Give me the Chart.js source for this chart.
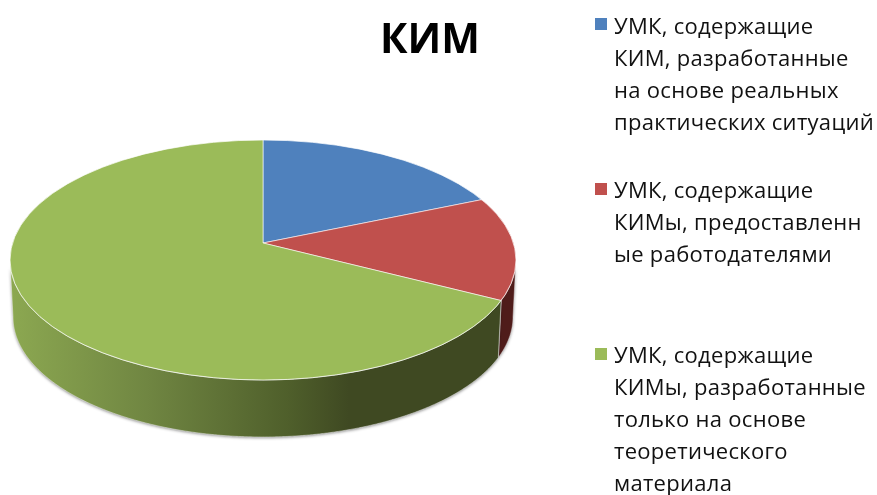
<!DOCTYPE html>
<html lang="ru">
<head>
<meta charset="utf-8">
<title>КИМ</title>
<script src="https://cdn.jsdelivr.net/npm/chart.js@4"></script>
<style>
    html, body { margin: 0; padding: 0; background: #fff; }
    #wrap { position: relative; width: 877px; height: 495px; overflow: hidden; font-family: "Open Sans", sans-serif; color: #111; }
    canvas { position: absolute; left: 0; top: 0; }
    #title { position: absolute; left: 380px; width: 100px; top: 9px; text-align: center; font-size: 41px; line-height: 56px; font-weight: 700; color: #000; }
    .leg { position: absolute; left: 614px; font-size: 22px; letter-spacing: 0.3px; line-height: 32px; white-space: nowrap; }
    .sw { position: absolute; left: 595px; width: 12px; height: 12px; }
</style>
</head>
<body>
<div id="wrap">
    <canvas id="myChart" width="877" height="495"></canvas>
    <div id="title"></div>
</div>
<script>
const titulo = 'КИМ';
const categorias = [
    ['УМК, содержащие', 'КИМ, разработанные', 'на основе реальных', 'практических ситуаций'],
    ['УМК, содержащие', 'КИМы, предоставленн', 'ые работодателями'],
    ['УМК, содержащие', 'КИМы, разработанные', 'только на основе', 'теоретического', 'материала']
];
const valores = [18.7, 13.8, 67.5];
const colores = ['#4F81BD', '#C0504D', '#9BBB59'];

// geometria de la elipse vista en perspectiva
const cx = 263, cy = 260, rx = 253, ry = 120;
const apexX = 263, apexY = 243;
const k = ry / rx;
const depth = 57;

// punto donde el rayo desde el vertice corta el borde de la elipse
function puntoBorde(ang) {
    const dx = Math.cos(ang), dy = Math.sin(ang);
    const oy = (apexY - cy) / k;
    const b = oy * dy;
    const t = -b + Math.sqrt(b * b - (oy * oy - rx * rx));
    return { x: apexX + t * dx, y: apexY + t * dy * k };
}

function gradienteLado(ctx, i) {
    const g = ctx.createLinearGradient(10, 0, 516, 0);
    if (i === 1) {
        g.addColorStop(0, '#4f1c1a');
        g.addColorStop(1, '#4f1c1a');
    } else {
        g.addColorStop(0, '#8ca851');
        g.addColorStop(0.27, '#708642');
        g.addColorStop(0.55, '#4f5f2b');
        g.addColorStop(0.67, '#3f4922');
        g.addColorStop(1, '#3f4922');
    }
    return g;
}

const pie3d = {
    id: 'pie3d',
    beforeDatasetsDraw(chart) {
        const ctx = chart.ctx;
        const arcs = chart.getDatasetMeta(0).data;

        // lado del disco
        arcs.forEach((arc, i) => {
            const puntos = [];
            for (let a = arc.startAngle; a <= arc.endAngle; a += 0.005) {
                const p = puntoBorde(a);
                if (p.y >= cy) puntos.push(p);
            }
            if (!puntos.length) return;
            ctx.save();
            ctx.beginPath();
            puntos.forEach((p, n) => n ? ctx.lineTo(p.x, p.y) : ctx.moveTo(p.x, p.y));
            puntos.slice().reverse().forEach(p => {
                ctx.lineTo(cx + (p.x - cx) * 250 / rx, p.y + depth);
            });
            ctx.closePath();
            ctx.shadowColor = 'rgba(0,0,0,0.45)';
            ctx.shadowBlur = 3;
            ctx.shadowOffsetY = 1;
            ctx.fillStyle = gradienteLado(ctx, i);
            ctx.fill();
            ctx.shadowColor = 'transparent';
            ctx.lineWidth = 0.8;
            ctx.strokeStyle = 'rgba(255,255,255,0.55)';
            ctx.stroke();
            ctx.restore();
        });

        // cara superior: los sectores se recortan a la elipse
        const arc0 = arcs[0];
        ctx.save();
        ctx.beginPath();
        ctx.ellipse(cx, cy, rx, ry, 0, 0, Math.PI * 2);
        ctx.clip();
        ctx.translate(apexX, apexY);
        ctx.scale(1, k);
        ctx.translate(-arc0.x, -arc0.y);
    },
    afterDatasetsDraw(chart) {
        const ctx = chart.ctx;
        ctx.restore();
        ctx.beginPath();
        ctx.ellipse(cx, cy, rx, ry, 0, 0, Math.PI * 2);
        ctx.lineWidth = 1;
        ctx.strokeStyle = 'rgba(255,255,255,0.7)';
        ctx.stroke();
    }
};

const wrap = document.getElementById('wrap');
document.getElementById('title').textContent = titulo;

// la leyenda va en texto real, cada bloque con su cuadrito
const topesLeyenda = [9, 173, 338];
const topesCuadro = [18, 183, 348];
categorias.forEach((lineas, i) => {
    const sw = document.createElement('div');
    sw.className = 'sw';
    sw.style.top = topesCuadro[i] + 'px';
    sw.style.background = colores[i];
    wrap.appendChild(sw);
    const div = document.createElement('div');
    div.className = 'leg';
    div.style.top = topesLeyenda[i] + 'px';
    div.innerHTML = lineas.join('<br>');
    wrap.appendChild(div);
});

new Chart(document.getElementById('myChart').getContext('2d'), {
    type: 'pie',
    data: {
        labels: categorias.map(l => l.join(' ')),
        datasets: [{
            data: valores,
            backgroundColor: colores,
            borderColor: 'rgba(255,255,255,0.8)',
            borderWidth: 1,
            radius: 300,
            clip: false
        }]
    },
    options: {
        responsive: false,
        animation: false,
        plugins: {
            legend: { display: false },
            tooltip: { enabled: false }
        }
    },
    plugins: [pie3d]
});
</script>
</body>
</html>
